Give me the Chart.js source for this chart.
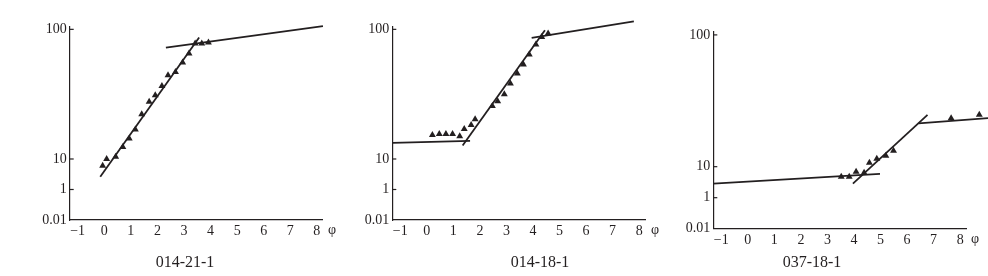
<!DOCTYPE html>
<html lang="zh">
<head>
<meta charset="UTF-8">
<title>概率累积曲线</title>
<script src="https://cdn.jsdelivr.net/npm/chart.js"></script>
<style>
  body { margin: 0; background: #fff; width: 988px; height: 276px; overflow: hidden; position: relative;
         font-family: "Liberation Serif", "DejaVu Serif", serif; color: #231f20; }
  .panel { position: absolute; top: 0; height: 276px; }
  .cap { position: absolute; transform: translate(-50%, -50%); white-space: nowrap; }
  .title { font-size: 16px; }
  .phi { font-size: 14px; }
</style>
</head>
<body>
<div class="panel" style="left:0;width:340px"><canvas id="c1"></canvas></div>
<div class="panel" style="left:340px;width:320px"><canvas id="c2"></canvas></div>
<div class="panel" style="left:660px;width:328px"><canvas id="c3"></canvas></div>

<div class="cap phi" style="left:332px;top:230px">φ</div>
<div class="cap phi" style="left:655px;top:230px">φ</div>
<div class="cap phi" style="left:975px;top:239px">φ</div>
<div class="cap title" style="left:185px;top:262px">014-21-1</div>
<div class="cap title" style="left:540px;top:262px">014-18-1</div>
<div class="cap title" style="left:812px;top:262px">037-18-1</div>

<script>
  const INK = '#231f20';
  const FONT = '"Liberation Serif", "DejaVu Serif", serif';

  // axes
  const X_TICKS = [-1, 0, 1, 2, 3, 4, 5, 6, 7, 8];
  const X_MIN = -1.3, X_MAX = 8.22;
  const Y_TICK_VALUES = [0.01, 1, 10, 100];
  const Y_TICK_LABELS = ['0.01', '1', '10', '100'];
  const Y_TICK_POS = [0, 1, 2, 6.25];   // where each labelled % sits on the (uneven) probability axis

  // 014-21-1
  const p1Phi = [-0.06, 0.09, 0.43, 0.70, 0.94, 1.17, 1.41, 1.69, 1.92, 2.17, 2.40, 2.68, 2.95, 3.19, 3.42, 3.67, 3.92];
  const p1Pct = [6.0, 10.0, 10.4, 12.4, 14.4, 16.9, 22.1, 27.6, 31.0, 36.5, 44.3, 46.9, 55.5, 65.1, 77.7, 77.7, 79.3];
  const p1Lines = [
    { phi: [-0.15, 3.57], pct: [2.63, 86.5] },
    { phi: [2.32, 8.23], pct: [72.3, 106] }
  ];

  // 014-18-1
  const p2Phi = [0.21, 0.47, 0.72, 0.97, 1.24, 1.41, 1.67, 1.82, 2.47, 2.67, 2.92, 3.15, 3.41, 3.64, 3.86, 4.11, 4.33, 4.57];
  const p2Pct = [15.3, 15.6, 15.6, 15.6, 15.0, 17.0, 18.3, 20.3, 25.6, 27.9, 31.6, 38.3, 45.7, 53.6, 64.0, 76.4, 87.4, 92.7];
  const p2Lines = [
    { phi: [-1.29, 1.63], pct: [13.3, 13.8] },
    { phi: [1.35, 4.45], pct: [12.7, 98.4] },
    { phi: [3.95, 7.80], pct: [85.9, 115.4] }
  ];

  // 037-18-1
  const p3Phi = [3.52, 3.82, 4.08, 4.38, 4.58, 4.86, 5.20, 5.49, 7.66, 8.72];
  const p3Pct = [4.76, 4.76, 6.90, 6.40, 10.7, 11.5, 12.1, 13.2, 23.3, 24.8];
  const p3Lines = [
    { phi: [-1.30, 4.98], pct: [2.83, 5.82] },
    { phi: [3.96, 6.77], pct: [2.83, 24.7] },
    { phi: [6.43, 9.05], pct: [21.3, 23.4] }
  ];

  // percent -> position on the probability axis (log interpolation between labelled ticks)
  function toPos(v) {
    const lv = Math.log10(v);
    let i = 0;
    while (i < Y_TICK_VALUES.length - 2 && v > Y_TICK_VALUES[i + 1]) i++;
    const a = Math.log10(Y_TICK_VALUES[i]), b = Math.log10(Y_TICK_VALUES[i + 1]);
    return Y_TICK_POS[i] + (lv - a) / (b - a) * (Y_TICK_POS[i + 1] - Y_TICK_POS[i]);
  }

  // short inward tick marks on the y axis
  const yTickMarks = {
    id: 'yTickMarks',
    afterDraw(chart) {
      const ctx = chart.ctx, y = chart.scales.y, left = chart.chartArea.left;
      ctx.save();
      ctx.strokeStyle = INK;
      ctx.lineWidth = 1.2;
      Y_TICK_POS.forEach(p => {
        if (p === 0) return;
        const py = y.getPixelForValue(p);
        ctx.beginPath();
        ctx.moveTo(left, py);
        ctx.lineTo(left + 4, py);
        ctx.stroke();
      });
      ctx.restore();
    }
  };

  // Chart.js skips points outside the chart area; draw those (beyond the axis end) too
  const outsidePoints = {
    id: 'outsidePoints',
    afterDatasetsDraw(chart) {
      const a = chart.chartArea;
      const big = { left: -1e4, right: 1e4, top: -1e4, bottom: 1e4 };
      chart.getDatasetMeta(0).data.forEach(el => {
        if (el.x > a.right || el.x < a.left || el.y < a.top || el.y > a.bottom) el.draw(chart.ctx, big);
      });
    }
  };

  function makePanel(id, phi, pct, lines, pad, yMax) {
    const datasets = [{
      type: 'scatter',
      data: phi.map((x, i) => ({ x: x, y: toPos(pct[i]) })),
      pointStyle: 'triangle',
      pointRadius: 4,
      backgroundColor: INK,
      borderWidth: 0,
      clip: false
    }];
    lines.forEach(l => datasets.push({
      type: 'line',
      data: l.phi.map((x, i) => ({ x: x, y: toPos(l.pct[i]) })),
      borderColor: INK,
      borderWidth: 1.8,
      pointRadius: 0,
      tension: 0,
      fill: false,
      clip: false
    }));

    new Chart(document.getElementById(id), {
      type: 'scatter',
      data: { datasets },
      options: {
        responsive: true,
        maintainAspectRatio: false,
        animation: false,
        layout: { padding: pad },
        plugins: { legend: { display: false }, tooltip: { enabled: false } },
        scales: {
          x: {
            type: 'linear',
            bounds: 'data',
            afterDataLimits: s => { s.min = X_MIN; s.max = X_MAX; },
            afterBuildTicks: s => { s.ticks = X_TICKS.map(v => ({ value: v })); },
            afterFit: s => { s.height = 20; },
            grid: { drawOnChartArea: false, drawTicks: false },
            border: { color: INK, width: 1.2 },
            ticks: { color: INK, padding: 3, font: { family: FONT, size: 14 },
                     callback: v => v < 0 ? '\u2212' + Math.abs(v) : String(v) }
          },
          y: {
            type: 'linear',
            bounds: 'data',
            afterDataLimits: s => { s.min = 0; s.max = yMax; },
            afterBuildTicks: s => { s.ticks = Y_TICK_POS.map(v => ({ value: v })); },
            afterFit: s => { s.width = 50; },
            grid: { drawOnChartArea: false, drawTicks: false },
            border: { color: INK, width: 1.2 },
            ticks: { color: INK, padding: 3, font: { family: FONT, size: 14 },
                     callback: (v, i) => Y_TICK_LABELS[i] }
          }
        }
      },
      plugins: [yTickMarks, outsidePoints]
    });
  }

  makePanel('c1', p1Phi, p1Pct, p1Lines, { left: 19.7, right: 17.3, top: 26.3, bottom: 36 }, 6.35);
  makePanel('c2', p2Phi, p2Pct, p2Lines, { left: 2.3, right: 15, top: 26.3, bottom: 36 }, 6.35);
  makePanel('c3', p3Phi, p3Pct, p3Lines, { left: 3.3, right: 22, top: 31.8, bottom: 27.3 }, 6.35);
</script>
</body>
</html>
